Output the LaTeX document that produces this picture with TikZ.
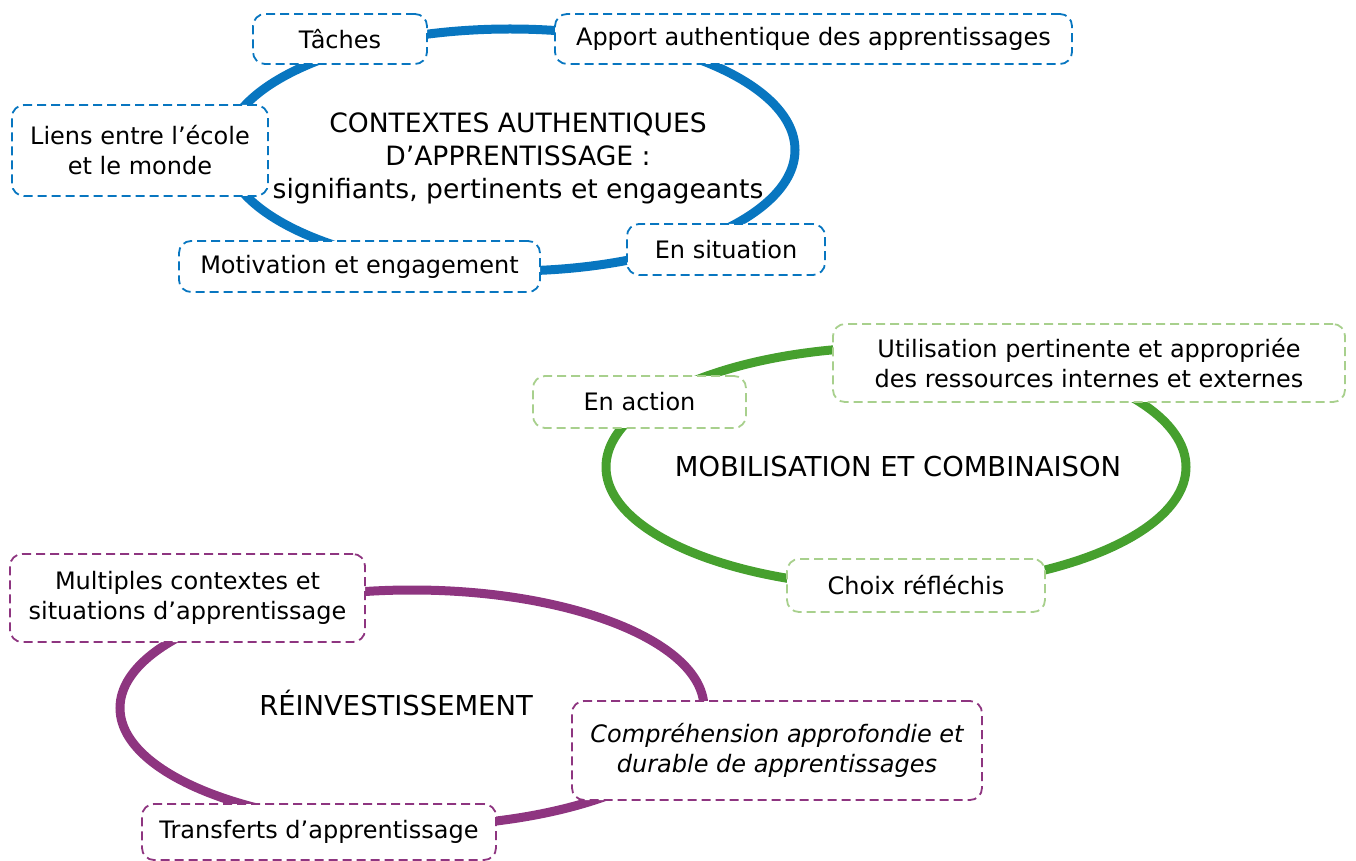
\documentclass[tikz,border=0pt]{standalone}
\usepackage{fontspec}
\setmainfont{DejaVu Sans}
\usepackage{tikz}

\definecolor{ringblue}{RGB}{8,118,192}
\definecolor{ringgreen}{RGB}{70,160,46}
\definecolor{boxgreen}{RGB}{168,208,141}
\definecolor{ringpurple}{RGB}{142,53,128}

\begin{document}
\begin{tikzpicture}[x=0.5pt, y=-0.5pt,
		ring/.style = {line width=4.5pt},
		every node/.style = {font=\fontsize{12}{15}\selectfont, align=center},
		box/.style = {shape=rectangle, rounded corners=6pt, fill=white,
			line width=0.9pt, dash pattern=on 4.5pt off 2.5pt, inner sep=0pt},
		title/.style = {font=\fontsize{13.7}{16.5}\selectfont}]
	\useasboundingbox (0,0) rectangle (1356,861);
	% rings behind the boxes
	\draw[ring, ringblue] (510,150) ellipse [x radius=285, y radius=121];
	\draw[ring, ringgreen] (896,467) ellipse [x radius=290, y radius=120];
	\draw[ring, ringpurple] (412,708) ellipse [x radius=292, y radius=118];
	% contextes authentiques
	\node[title, font=\fontsize{13.3}{16.5}\selectfont] (ctx) at (518,158) {CONTEXTES AUTHENTIQUES \\ D’APPRENTISSAGE : \\ signifiants, pertinents et engageants};
	\node[box, draw=ringblue, minimum width=87pt, minimum height=25pt] (taches) at (340,39) {Tâches};
	\node[box, draw=ringblue, minimum width=258.5pt, minimum height=25pt] (apport) at (813.5,39) {Apport authentique des apprentissages};
	\node[box, draw=ringblue, minimum width=128pt, minimum height=45.5pt] (liens) at (140,150.5) {Liens entre l’école \\ et le monde};
	\node[box, draw=ringblue, minimum width=180.5pt, minimum height=25.5pt] (motiv) at (359.5,266.5) {Motivation et engagement};
	\node[box, draw=ringblue, minimum width=99pt, minimum height=25.5pt] (situ) at (726,249.5) {En situation};
	% mobilisation et combinaison
	\node[title] (mob) at (898,467) {MOBILISATION ET COMBINAISON};
	\node[box, draw=boxgreen, minimum width=106.5pt, minimum height=26pt] (action) at (639.5,402) {En action};
	\node[box, draw=boxgreen, minimum width=256pt, minimum height=39pt] (util) at (1089,363) {Utilisation pertinente et appropriée \\ des ressources internes et externes};
	\node[box, draw=boxgreen, minimum width=129pt, minimum height=26.5pt] (choix) at (916,585.5) {Choix réfléchis};
	% reinvestissement
	\node[title] (reinv) at (396,703) {RÉINVESTISSEMENT};
	\node[box, draw=ringpurple, minimum width=177.5pt, minimum height=44pt] (multi) at (187.5,598) {Multiples contextes et \\ situations d’apprentissage};
	\node[box, draw=ringpurple, minimum width=205pt, minimum height=49.5pt, font=\fontsize{12}{15}\selectfont\itshape] (compr) at (777,750.5) {Compréhension approfondie et \\ durable de apprentissages};
	\node[box, draw=ringpurple, minimum width=177pt, minimum height=28pt] (transf) at (319,832) {Transferts d’apprentissage};
\end{tikzpicture}
\end{document}
